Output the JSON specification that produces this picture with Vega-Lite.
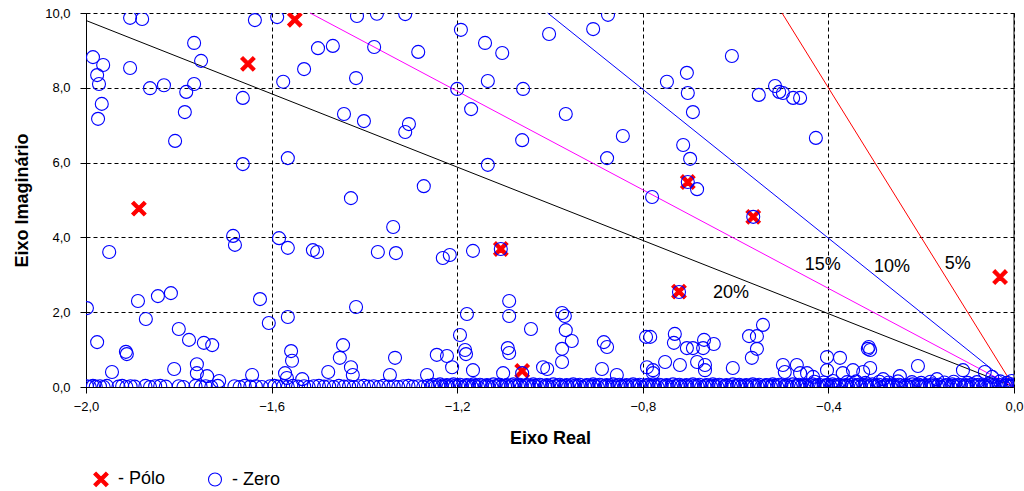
{
  "$schema": "https://vega.github.io/schema/vega-lite/v6.json",
  "width": 928,
  "height": 374,
  "autosize": {"type": "none"},
  "padding": {"left": 86, "top": 13, "right": 10, "bottom": 104},
  "background": "white",
  "config": {
    "font": "Liberation Sans",
    "view": {"stroke": null},
    "axis": {"labelFont": "Liberation Sans", "titleFont": "Liberation Sans", "labelColor": "#000", "titleColor": "#000", "domainColor": "#000", "tickColor": "#000"}
  },
  "datasets": {
    "lines": [
      {"zeta": "20%", "re": 0, "im": 0}, {"zeta": "20%", "re": -2.0, "im": 9.8},
      {"zeta": "15%", "re": 0, "im": 0}, {"zeta": "15%", "re": -1.517, "im": 10},
      {"zeta": "10%", "re": 0, "im": 0}, {"zeta": "10%", "re": -1.005, "im": 10},
      {"zeta": "5%", "re": 0, "im": 0}, {"zeta": "5%", "re": -0.5, "im": 10}
    ],
    "labels": [
      {"label": "20%", "re": -0.610, "im": 2.51},
      {"label": "15%", "re": -0.412, "im": 3.26},
      {"label": "10%", "re": -0.263, "im": 3.21},
      {"label": "5%", "re": -0.121, "im": 3.29}
    ],
    "frame": [{"re": 0}],
    "points": [
      {"tipo": "Pólo", "re": -1.886, "im": 4.77},
      {"tipo": "Pólo", "re": -1.651, "im": 8.64},
      {"tipo": "Pólo", "re": -1.550, "im": 9.82},
      {"tipo": "Pólo", "re": -1.106, "im": 3.69},
      {"tipo": "Pólo", "re": -1.060, "im": 0.43},
      {"tipo": "Pólo", "re": -0.722, "im": 2.55},
      {"tipo": "Pólo", "re": -0.703, "im": 5.48},
      {"tipo": "Pólo", "re": -0.562, "im": 4.55},
      {"tipo": "Pólo", "re": -0.030, "im": 2.94},
      {"tipo": "Zero", "re": -1.905, "im": 9.87}, {"tipo": "Zero", "re": -1.879, "im": 9.84}, {"tipo": "Zero", "re": -1.636, "im": 9.81}, {"tipo": "Zero", "re": -1.588, "im": 9.89},
      {"tipo": "Zero", "re": -1.985, "im": 8.82}, {"tipo": "Zero", "re": -1.963, "im": 8.61}, {"tipo": "Zero", "re": -1.976, "im": 8.34}, {"tipo": "Zero", "re": -1.972, "im": 8.10},
      {"tipo": "Zero", "re": -1.966, "im": 7.57}, {"tipo": "Zero", "re": -1.974, "im": 7.17}, {"tipo": "Zero", "re": -1.905, "im": 8.53}, {"tipo": "Zero", "re": -1.862, "im": 7.99},
      {"tipo": "Zero", "re": -1.832, "im": 8.07}, {"tipo": "Zero", "re": -1.767, "im": 9.20}, {"tipo": "Zero", "re": -1.752, "im": 8.72}, {"tipo": "Zero", "re": -1.767, "im": 8.10},
      {"tipo": "Zero", "re": -1.784, "im": 7.89}, {"tipo": "Zero", "re": -1.787, "im": 7.35}, {"tipo": "Zero", "re": -1.808, "im": 6.58}, {"tipo": "Zero", "re": -1.662, "im": 7.73},
      {"tipo": "Zero", "re": -1.662, "im": 5.96}, {"tipo": "Zero", "re": -1.575, "im": 8.16}, {"tipo": "Zero", "re": -1.530, "im": 8.50}, {"tipo": "Zero", "re": -1.500, "im": 9.06},
      {"tipo": "Zero", "re": -1.565, "im": 6.12},
      {"tipo": "Zero", "re": -1.416, "im": 9.92}, {"tipo": "Zero", "re": -1.373, "im": 9.98}, {"tipo": "Zero", "re": -1.312, "im": 9.97}, {"tipo": "Zero", "re": -1.192, "im": 9.55},
      {"tipo": "Zero", "re": -1.468, "im": 9.12}, {"tipo": "Zero", "re": -1.379, "im": 9.09}, {"tipo": "Zero", "re": -1.284, "im": 8.96}, {"tipo": "Zero", "re": -1.418, "im": 8.26},
      {"tipo": "Zero", "re": -1.140, "im": 9.20}, {"tipo": "Zero", "re": -1.103, "im": 8.93}, {"tipo": "Zero", "re": -1.200, "im": 7.97}, {"tipo": "Zero", "re": -1.134, "im": 8.18},
      {"tipo": "Zero", "re": -1.058, "im": 7.97}, {"tipo": "Zero", "re": -1.170, "im": 7.43}, {"tipo": "Zero", "re": -1.444, "im": 7.30}, {"tipo": "Zero", "re": -1.401, "im": 7.11},
      {"tipo": "Zero", "re": -1.304, "im": 7.03}, {"tipo": "Zero", "re": -1.312, "im": 6.82}, {"tipo": "Zero", "re": -1.060, "im": 6.60}, {"tipo": "Zero", "re": -1.134, "im": 5.94},
      {"tipo": "Zero", "re": -1.272, "im": 5.37}, {"tipo": "Zero", "re": -1.429, "im": 5.05}, {"tipo": "Zero", "re": -1.002, "im": 9.44},
      {"tipo": "Zero", "re": -0.875, "im": 9.95}, {"tipo": "Zero", "re": -0.907, "im": 9.57}, {"tipo": "Zero", "re": -0.608, "im": 8.85}, {"tipo": "Zero", "re": -0.705, "im": 8.40},
      {"tipo": "Zero", "re": -0.748, "im": 8.16}, {"tipo": "Zero", "re": -0.703, "im": 7.86}, {"tipo": "Zero", "re": -0.692, "im": 7.35}, {"tipo": "Zero", "re": -0.550, "im": 7.81},
      {"tipo": "Zero", "re": -0.515, "im": 8.05}, {"tipo": "Zero", "re": -0.506, "im": 7.89}, {"tipo": "Zero", "re": -0.966, "im": 7.30}, {"tipo": "Zero", "re": -0.843, "im": 6.71},
      {"tipo": "Zero", "re": -0.877, "im": 6.12}, {"tipo": "Zero", "re": -0.713, "im": 6.47}, {"tipo": "Zero", "re": -0.698, "im": 6.10}, {"tipo": "Zero", "re": -0.703, "im": 5.48},
      {"tipo": "Zero", "re": -0.683, "im": 5.29}, {"tipo": "Zero", "re": -0.780, "im": 5.08},
      {"tipo": "Zero", "re": -0.498, "im": 7.86}, {"tipo": "Zero", "re": -0.476, "im": 7.73}, {"tipo": "Zero", "re": -0.461, "im": 7.73}, {"tipo": "Zero", "re": -0.427, "im": 6.66},
      {"tipo": "Zero", "re": -1.950, "im": 3.61}, {"tipo": "Zero", "re": -1.683, "im": 4.04}, {"tipo": "Zero", "re": -1.679, "im": 3.80}, {"tipo": "Zero", "re": -1.584, "im": 3.98},
      {"tipo": "Zero", "re": -1.565, "im": 3.72}, {"tipo": "Zero", "re": -1.511, "im": 3.66}, {"tipo": "Zero", "re": -1.502, "im": 3.61}, {"tipo": "Zero", "re": -1.998, "im": 2.11},
      {"tipo": "Zero", "re": -1.888, "im": 2.30}, {"tipo": "Zero", "re": -1.845, "im": 2.43}, {"tipo": "Zero", "re": -1.817, "im": 2.51}, {"tipo": "Zero", "re": -1.625, "im": 2.35},
      {"tipo": "Zero", "re": -1.871, "im": 1.82}, {"tipo": "Zero", "re": -1.800, "im": 1.55}, {"tipo": "Zero", "re": -1.565, "im": 1.87}, {"tipo": "Zero", "re": -1.606, "im": 1.71},
      {"tipo": "Zero", "re": -1.976, "im": 1.20}, {"tipo": "Zero", "re": -1.778, "im": 1.26}, {"tipo": "Zero", "re": -1.746, "im": 1.18}, {"tipo": "Zero", "re": -1.728, "im": 1.12},
      {"tipo": "Zero", "re": -1.914, "im": 0.94}, {"tipo": "Zero", "re": -1.558, "im": 0.96},
      {"tipo": "Zero", "re": -1.338, "im": 4.28}, {"tipo": "Zero", "re": -1.371, "im": 3.61}, {"tipo": "Zero", "re": -1.332, "im": 3.58}, {"tipo": "Zero", "re": -1.231, "im": 3.45},
      {"tipo": "Zero", "re": -1.216, "im": 3.53}, {"tipo": "Zero", "re": -1.166, "im": 3.64}, {"tipo": "Zero", "re": -1.106, "im": 3.69}, {"tipo": "Zero", "re": -1.088, "im": 2.30},
      {"tipo": "Zero", "re": -1.418, "im": 2.14}, {"tipo": "Zero", "re": -1.179, "im": 1.95}, {"tipo": "Zero", "re": -1.088, "im": 1.90}, {"tipo": "Zero", "re": -1.041, "im": 1.55},
      {"tipo": "Zero", "re": -1.194, "im": 1.39}, {"tipo": "Zero", "re": -1.446, "im": 1.12}, {"tipo": "Zero", "re": -1.091, "im": 1.04}, {"tipo": "Zero", "re": -1.183, "im": 0.99},
      {"tipo": "Zero", "re": -0.722, "im": 2.54}, {"tipo": "Zero", "re": -0.562, "im": 4.55}, {"tipo": "Zero", "re": -0.974, "im": 1.98}, {"tipo": "Zero", "re": -0.968, "im": 1.90},
      {"tipo": "Zero", "re": -0.966, "im": 1.52}, {"tipo": "Zero", "re": -0.953, "im": 1.23}, {"tipo": "Zero", "re": -0.974, "im": 1.02}, {"tipo": "Zero", "re": -0.884, "im": 1.20},
      {"tipo": "Zero", "re": -0.877, "im": 1.07}, {"tipo": "Zero", "re": -0.793, "im": 1.34}, {"tipo": "Zero", "re": -0.784, "im": 1.34}, {"tipo": "Zero", "re": -0.731, "im": 1.42},
      {"tipo": "Zero", "re": -0.733, "im": 1.18}, {"tipo": "Zero", "re": -0.705, "im": 1.04}, {"tipo": "Zero", "re": -0.692, "im": 1.04}, {"tipo": "Zero", "re": -0.668, "im": 1.26},
      {"tipo": "Zero", "re": -0.647, "im": 1.15}, {"tipo": "Zero", "re": -0.571, "im": 1.36}, {"tipo": "Zero", "re": -0.554, "im": 1.36}, {"tipo": "Zero", "re": -0.541, "im": 1.66},
      {"tipo": "Zero", "re": -0.554, "im": 1.02}, {"tipo": "Zero", "re": -0.313, "im": 1.07},
      {"tipo": "Zero", "re": -1.912, "im": 0.88}, {"tipo": "Zero", "re": -1.944, "im": 0.40}, {"tipo": "Zero", "re": -1.810, "im": 0.48}, {"tipo": "Zero", "re": -1.761, "im": 0.61},
      {"tipo": "Zero", "re": -1.761, "im": 0.37}, {"tipo": "Zero", "re": -1.739, "im": 0.29}, {"tipo": "Zero", "re": -1.713, "im": 0.16}, {"tipo": "Zero", "re": -1.642, "im": 0.32},
      {"tipo": "Zero", "re": -1.556, "im": 0.70}, {"tipo": "Zero", "re": -1.571, "im": 0.37}, {"tipo": "Zero", "re": -1.567, "im": 0.24}, {"tipo": "Zero", "re": -1.534, "im": 0.21},
      {"tipo": "Zero", "re": -1.478, "im": 0.40}, {"tipo": "Zero", "re": -1.453, "im": 0.78}, {"tipo": "Zero", "re": -1.429, "im": 0.53}, {"tipo": "Zero", "re": -1.425, "im": 0.32},
      {"tipo": "Zero", "re": -1.334, "im": 0.78}, {"tipo": "Zero", "re": -1.345, "im": 0.32},
      {"tipo": "Zero", "re": -1.244, "im": 0.86}, {"tipo": "Zero", "re": -1.222, "im": 0.83}, {"tipo": "Zero", "re": -1.211, "im": 0.53}, {"tipo": "Zero", "re": -1.265, "im": 0.32},
      {"tipo": "Zero", "re": -1.181, "im": 0.88}, {"tipo": "Zero", "re": -1.166, "im": 0.45}, {"tipo": "Zero", "re": -1.088, "im": 0.91}, {"tipo": "Zero", "re": -1.101, "im": 0.37},
      {"tipo": "Zero", "re": -1.060, "im": 0.37}, {"tipo": "Zero", "re": -1.015, "im": 0.53}, {"tipo": "Zero", "re": -1.006, "im": 0.48}, {"tipo": "Zero", "re": -0.974, "im": 0.67},
      {"tipo": "Zero", "re": -0.888, "im": 0.48}, {"tipo": "Zero", "re": -0.856, "im": 0.32}, {"tipo": "Zero", "re": -0.791, "im": 0.53}, {"tipo": "Zero", "re": -0.778, "im": 0.45},
      {"tipo": "Zero", "re": -0.778, "im": 0.37}, {"tipo": "Zero", "re": -0.752, "im": 0.67}, {"tipo": "Zero", "re": -0.720, "im": 0.59}, {"tipo": "Zero", "re": -0.683, "im": 0.67},
      {"tipo": "Zero", "re": -0.670, "im": 1.04}, {"tipo": "Zero", "re": -0.666, "im": 0.59}, {"tipo": "Zero", "re": -0.666, "im": 0.45},
      {"tipo": "Zero", "re": -0.606, "im": 0.51}, {"tipo": "Zero", "re": -0.565, "im": 0.78}, {"tipo": "Zero", "re": -0.498, "im": 0.59}, {"tipo": "Zero", "re": -0.494, "im": 0.40},
      {"tipo": "Zero", "re": -0.468, "im": 0.59}, {"tipo": "Zero", "re": -0.461, "im": 0.37}, {"tipo": "Zero", "re": -0.446, "im": 0.37}, {"tipo": "Zero", "re": -0.433, "im": 0.27},
      {"tipo": "Zero", "re": -0.403, "im": 0.80}, {"tipo": "Zero", "re": -0.403, "im": 0.45}, {"tipo": "Zero", "re": -0.375, "im": 0.78}, {"tipo": "Zero", "re": -0.369, "im": 0.37},
      {"tipo": "Zero", "re": -0.347, "im": 0.45}, {"tipo": "Zero", "re": -0.325, "im": 0.40}, {"tipo": "Zero", "re": -0.310, "im": 0.51}, {"tipo": "Zero", "re": -0.315, "im": 1.02},
      {"tipo": "Zero", "re": -0.310, "im": 0.99}, {"tipo": "Zero", "re": -0.282, "im": 0.21}, {"tipo": "Zero", "re": -0.246, "im": 0.29}, {"tipo": "Zero", "re": -0.207, "im": 0.56},
      {"tipo": "Zero", "re": -0.166, "im": 0.21}, {"tipo": "Zero", "re": -0.110, "im": 0.45}, {"tipo": "Zero", "re": -0.063, "im": 0.40}, {"tipo": "Zero", "re": -0.047, "im": 0.27},
      {"tipo": "Zero", "re": -1.998, "im": 0.02}, {"tipo": "Zero", "re": -1.992, "im": 0.00}, {"tipo": "Zero", "re": -1.985, "im": 0.03}, {"tipo": "Zero", "re": -1.979, "im": 0.01},
      {"tipo": "Zero", "re": -1.970, "im": 0.02}, {"tipo": "Zero", "re": -1.962, "im": 0.00}, {"tipo": "Zero", "re": -1.955, "im": 0.03}, {"tipo": "Zero", "re": -1.930, "im": 0.01},
      {"tipo": "Zero", "re": -1.922, "im": 0.03}, {"tipo": "Zero", "re": -1.913, "im": 0.00}, {"tipo": "Zero", "re": -1.904, "im": 0.02}, {"tipo": "Zero", "re": -1.895, "im": 0.01},
      {"tipo": "Zero", "re": -1.872, "im": 0.03}, {"tipo": "Zero", "re": -1.862, "im": 0.00}, {"tipo": "Zero", "re": -1.851, "im": 0.02}, {"tipo": "Zero", "re": -1.840, "im": 0.03},
      {"tipo": "Zero", "re": -1.828, "im": 0.01}, {"tipo": "Zero", "re": -1.800, "im": 0.02}, {"tipo": "Zero", "re": -1.790, "im": 0.00}, {"tipo": "Zero", "re": -1.764, "im": 0.03},
      {"tipo": "Zero", "re": -1.753, "im": 0.01}, {"tipo": "Zero", "re": -1.742, "im": 0.02}, {"tipo": "Zero", "re": -1.730, "im": 0.00}, {"tipo": "Zero", "re": -1.716, "im": 0.03},
      {"tipo": "Zero", "re": -1.680, "im": 0.02}, {"tipo": "Zero", "re": -1.669, "im": 0.00}, {"tipo": "Zero", "re": -1.658, "im": 0.03}, {"tipo": "Zero", "re": -1.646, "im": 0.01},
      {"tipo": "Zero", "re": -1.634, "im": 0.02}, {"tipo": "Zero", "re": -1.621, "im": 0.00}, {"tipo": "Zero", "re": -1.603, "im": 0.02}, {"tipo": "Zero", "re": -1.594, "im": 0.03},
      {"tipo": "Zero", "re": -1.585, "im": 0.01}, {"tipo": "Zero", "re": -1.575, "im": 0.02}, {"tipo": "Zero", "re": -1.565, "im": 0.00}, {"tipo": "Zero", "re": -1.554, "im": 0.03},
      {"tipo": "Zero", "re": -1.543, "im": 0.01}, {"tipo": "Zero", "re": -1.530, "im": 0.02}, {"tipo": "Zero", "re": -1.520, "im": 0.00}, {"tipo": "Zero", "re": -1.509, "im": 0.02},
      {"tipo": "Zero", "re": -1.498, "im": 0.03}, {"tipo": "Zero", "re": -1.487, "im": 0.01}, {"tipo": "Zero", "re": -1.476, "im": 0.02}, {"tipo": "Zero", "re": -1.466, "im": 0.00},
      {"tipo": "Zero", "re": -1.455, "im": 0.03}, {"tipo": "Zero", "re": -1.444, "im": 0.01}, {"tipo": "Zero", "re": -1.433, "im": 0.02}, {"tipo": "Zero", "re": -1.423, "im": 0.00},
      {"tipo": "Zero", "re": -1.412, "im": 0.02}, {"tipo": "Zero", "re": -1.401, "im": 0.03}, {"tipo": "Zero", "re": -1.391, "im": 0.01}, {"tipo": "Zero", "re": -1.380, "im": 0.02},
      {"tipo": "Zero", "re": -1.369, "im": 0.00}, {"tipo": "Zero", "re": -1.359, "im": 0.03}, {"tipo": "Zero", "re": -1.348, "im": 0.01}, {"tipo": "Zero", "re": -1.337, "im": 0.02},
      {"tipo": "Zero", "re": -1.327, "im": 0.00}, {"tipo": "Zero", "re": -1.316, "im": 0.02}, {"tipo": "Zero", "re": -1.305, "im": 0.03}, {"tipo": "Zero", "re": -1.295, "im": 0.01},
      {"tipo": "Zero", "re": -1.284, "im": 0.02}, {"tipo": "Zero", "re": -1.273, "im": 0.00}, {"tipo": "Zero", "re": -1.263, "im": 0.03},
      {"tipo": "Zero", "re": -1.255, "im": 0.02}, {"tipo": "Zero", "re": -1.248, "im": 0.00}, {"tipo": "Zero", "re": -1.241, "im": 0.04}, {"tipo": "Zero", "re": -1.233, "im": 0.01},
      {"tipo": "Zero", "re": -1.226, "im": 0.03}, {"tipo": "Zero", "re": -1.219, "im": 0.00}, {"tipo": "Zero", "re": -1.212, "im": 0.04}, {"tipo": "Zero", "re": -1.205, "im": 0.02},
      {"tipo": "Zero", "re": -1.198, "im": 0.03}, {"tipo": "Zero", "re": -1.190, "im": 0.00}, {"tipo": "Zero", "re": -1.183, "im": 0.02}, {"tipo": "Zero", "re": -1.176, "im": 0.04},
      {"tipo": "Zero", "re": -1.169, "im": 0.01}, {"tipo": "Zero", "re": -1.162, "im": 0.03}, {"tipo": "Zero", "re": -1.155, "im": 0.00}, {"tipo": "Zero", "re": -1.147, "im": 0.04},
      {"tipo": "Zero", "re": -1.140, "im": 0.02}, {"tipo": "Zero", "re": -1.133, "im": 0.03}, {"tipo": "Zero", "re": -1.126, "im": 0.00}, {"tipo": "Zero", "re": -1.119, "im": 0.02},
      {"tipo": "Zero", "re": -1.112, "im": 0.04}, {"tipo": "Zero", "re": -1.104, "im": 0.01}, {"tipo": "Zero", "re": -1.097, "im": 0.03}, {"tipo": "Zero", "re": -1.090, "im": 0.00},
      {"tipo": "Zero", "re": -1.083, "im": 0.04}, {"tipo": "Zero", "re": -1.076, "im": 0.02}, {"tipo": "Zero", "re": -1.069, "im": 0.03}, {"tipo": "Zero", "re": -1.061, "im": 0.00},
      {"tipo": "Zero", "re": -1.054, "im": 0.02}, {"tipo": "Zero", "re": -1.047, "im": 0.04}, {"tipo": "Zero", "re": -1.040, "im": 0.01}, {"tipo": "Zero", "re": -1.033, "im": 0.03},
      {"tipo": "Zero", "re": -1.026, "im": 0.00}, {"tipo": "Zero", "re": -1.018, "im": 0.04}, {"tipo": "Zero", "re": -1.011, "im": 0.02}, {"tipo": "Zero", "re": -1.004, "im": 0.03},
      {"tipo": "Zero", "re": -0.997, "im": 0.00}, {"tipo": "Zero", "re": -0.990, "im": 0.02}, {"tipo": "Zero", "re": -0.983, "im": 0.04}, {"tipo": "Zero", "re": -0.975, "im": 0.01},
      {"tipo": "Zero", "re": -0.968, "im": 0.03}, {"tipo": "Zero", "re": -0.961, "im": 0.00}, {"tipo": "Zero", "re": -0.954, "im": 0.04}, {"tipo": "Zero", "re": -0.947, "im": 0.02},
      {"tipo": "Zero", "re": -0.940, "im": 0.03}, {"tipo": "Zero", "re": -0.932, "im": 0.00}, {"tipo": "Zero", "re": -0.925, "im": 0.02}, {"tipo": "Zero", "re": -0.918, "im": 0.04},
      {"tipo": "Zero", "re": -0.911, "im": 0.01}, {"tipo": "Zero", "re": -0.904, "im": 0.03}, {"tipo": "Zero", "re": -0.897, "im": 0.00}, {"tipo": "Zero", "re": -0.889, "im": 0.04},
      {"tipo": "Zero", "re": -0.882, "im": 0.02}, {"tipo": "Zero", "re": -0.875, "im": 0.03}, {"tipo": "Zero", "re": -0.868, "im": 0.00}, {"tipo": "Zero", "re": -0.861, "im": 0.02},
      {"tipo": "Zero", "re": -0.854, "im": 0.04}, {"tipo": "Zero", "re": -0.846, "im": 0.01}, {"tipo": "Zero", "re": -0.839, "im": 0.03}, {"tipo": "Zero", "re": -0.832, "im": 0.00},
      {"tipo": "Zero", "re": -0.825, "im": 0.04}, {"tipo": "Zero", "re": -0.818, "im": 0.02}, {"tipo": "Zero", "re": -0.811, "im": 0.03}, {"tipo": "Zero", "re": -0.803, "im": 0.00},
      {"tipo": "Zero", "re": -0.796, "im": 0.02}, {"tipo": "Zero", "re": -0.789, "im": 0.04}, {"tipo": "Zero", "re": -0.782, "im": 0.01}, {"tipo": "Zero", "re": -0.775, "im": 0.03},
      {"tipo": "Zero", "re": -0.768, "im": 0.00}, {"tipo": "Zero", "re": -0.760, "im": 0.04}, {"tipo": "Zero", "re": -0.753, "im": 0.02}, {"tipo": "Zero", "re": -0.746, "im": 0.03},
      {"tipo": "Zero", "re": -0.739, "im": 0.00}, {"tipo": "Zero", "re": -0.732, "im": 0.02}, {"tipo": "Zero", "re": -0.725, "im": 0.04}, {"tipo": "Zero", "re": -0.717, "im": 0.01},
      {"tipo": "Zero", "re": -0.710, "im": 0.03}, {"tipo": "Zero", "re": -0.703, "im": 0.00}, {"tipo": "Zero", "re": -0.696, "im": 0.04}, {"tipo": "Zero", "re": -0.689, "im": 0.02},
      {"tipo": "Zero", "re": -0.682, "im": 0.03}, {"tipo": "Zero", "re": -0.674, "im": 0.00}, {"tipo": "Zero", "re": -0.667, "im": 0.02}, {"tipo": "Zero", "re": -0.660, "im": 0.04},
      {"tipo": "Zero", "re": -0.653, "im": 0.01}, {"tipo": "Zero", "re": -0.646, "im": 0.03}, {"tipo": "Zero", "re": -0.639, "im": 0.00}, {"tipo": "Zero", "re": -0.631, "im": 0.04},
      {"tipo": "Zero", "re": -0.624, "im": 0.02}, {"tipo": "Zero", "re": -0.617, "im": 0.03}, {"tipo": "Zero", "re": -0.610, "im": 0.00}, {"tipo": "Zero", "re": -0.603, "im": 0.02},
      {"tipo": "Zero", "re": -0.596, "im": 0.04}, {"tipo": "Zero", "re": -0.588, "im": 0.01}, {"tipo": "Zero", "re": -0.581, "im": 0.03}, {"tipo": "Zero", "re": -0.574, "im": 0.00},
      {"tipo": "Zero", "re": -0.567, "im": 0.04}, {"tipo": "Zero", "re": -0.560, "im": 0.02}, {"tipo": "Zero", "re": -0.553, "im": 0.03}, {"tipo": "Zero", "re": -0.545, "im": 0.00},
      {"tipo": "Zero", "re": -0.538, "im": 0.02}, {"tipo": "Zero", "re": -0.531, "im": 0.04}, {"tipo": "Zero", "re": -0.524, "im": 0.01}, {"tipo": "Zero", "re": -0.517, "im": 0.03},
      {"tipo": "Zero", "re": -0.510, "im": 0.00}, {"tipo": "Zero", "re": -0.502, "im": 0.04}, {"tipo": "Zero", "re": -0.495, "im": 0.02}, {"tipo": "Zero", "re": -0.488, "im": 0.03},
      {"tipo": "Zero", "re": -0.481, "im": 0.00}, {"tipo": "Zero", "re": -0.474, "im": 0.02}, {"tipo": "Zero", "re": -0.467, "im": 0.04}, {"tipo": "Zero", "re": -0.459, "im": 0.01},
      {"tipo": "Zero", "re": -0.452, "im": 0.03}, {"tipo": "Zero", "re": -0.445, "im": 0.00}, {"tipo": "Zero", "re": -0.438, "im": 0.04}, {"tipo": "Zero", "re": -0.431, "im": 0.02},
      {"tipo": "Zero", "re": -0.424, "im": 0.03}, {"tipo": "Zero", "re": -0.416, "im": 0.00}, {"tipo": "Zero", "re": -0.409, "im": 0.02}, {"tipo": "Zero", "re": -0.402, "im": 0.04},
      {"tipo": "Zero", "re": -0.395, "im": 0.01}, {"tipo": "Zero", "re": -0.388, "im": 0.03}, {"tipo": "Zero", "re": -0.381, "im": 0.00}, {"tipo": "Zero", "re": -0.373, "im": 0.04},
      {"tipo": "Zero", "re": -0.366, "im": 0.02}, {"tipo": "Zero", "re": -0.359, "im": 0.03}, {"tipo": "Zero", "re": -0.352, "im": 0.00}, {"tipo": "Zero", "re": -0.345, "im": 0.02},
      {"tipo": "Zero", "re": -0.338, "im": 0.04}, {"tipo": "Zero", "re": -0.330, "im": 0.01}, {"tipo": "Zero", "re": -0.323, "im": 0.03}, {"tipo": "Zero", "re": -0.316, "im": 0.00},
      {"tipo": "Zero", "re": -0.309, "im": 0.04}, {"tipo": "Zero", "re": -0.302, "im": 0.02}, {"tipo": "Zero", "re": -0.295, "im": 0.03}, {"tipo": "Zero", "re": -0.287, "im": 0.00},
      {"tipo": "Zero", "re": -0.280, "im": 0.02}, {"tipo": "Zero", "re": -0.273, "im": 0.04}, {"tipo": "Zero", "re": -0.266, "im": 0.01}, {"tipo": "Zero", "re": -0.259, "im": 0.03},
      {"tipo": "Zero", "re": -0.252, "im": 0.00}, {"tipo": "Zero", "re": -0.244, "im": 0.04}, {"tipo": "Zero", "re": -0.237, "im": 0.02}, {"tipo": "Zero", "re": -0.230, "im": 0.03},
      {"tipo": "Zero", "re": -0.223, "im": 0.00}, {"tipo": "Zero", "re": -0.216, "im": 0.02}, {"tipo": "Zero", "re": -0.209, "im": 0.04}, {"tipo": "Zero", "re": -0.201, "im": 0.01},
      {"tipo": "Zero", "re": -0.194, "im": 0.03}, {"tipo": "Zero", "re": -0.187, "im": 0.00}, {"tipo": "Zero", "re": -0.180, "im": 0.04}, {"tipo": "Zero", "re": -0.173, "im": 0.02},
      {"tipo": "Zero", "re": -0.166, "im": 0.03}, {"tipo": "Zero", "re": -0.158, "im": 0.00}, {"tipo": "Zero", "re": -0.151, "im": 0.02}, {"tipo": "Zero", "re": -0.144, "im": 0.04},
      {"tipo": "Zero", "re": -0.137, "im": 0.01}, {"tipo": "Zero", "re": -0.130, "im": 0.03}, {"tipo": "Zero", "re": -0.123, "im": 0.00}, {"tipo": "Zero", "re": -0.115, "im": 0.04},
      {"tipo": "Zero", "re": -0.108, "im": 0.02}, {"tipo": "Zero", "re": -0.101, "im": 0.03}, {"tipo": "Zero", "re": -0.094, "im": 0.00}, {"tipo": "Zero", "re": -0.087, "im": 0.02},
      {"tipo": "Zero", "re": -0.080, "im": 0.04}, {"tipo": "Zero", "re": -0.072, "im": 0.01}, {"tipo": "Zero", "re": -0.065, "im": 0.03}, {"tipo": "Zero", "re": -0.058, "im": 0.00},
      {"tipo": "Zero", "re": -0.051, "im": 0.04}, {"tipo": "Zero", "re": -0.044, "im": 0.02}, {"tipo": "Zero", "re": -0.037, "im": 0.03}, {"tipo": "Zero", "re": -0.029, "im": 0.00},
      {"tipo": "Zero", "re": -0.022, "im": 0.02}, {"tipo": "Zero", "re": -0.015, "im": 0.04}, {"tipo": "Zero", "re": -0.008, "im": 0.01}, {"tipo": "Zero", "re": -0.003, "im": 0.03},
      {"tipo": "Zero", "re": -1.252, "im": 0.06}, {"tipo": "Zero", "re": -1.237, "im": 0.07}, {"tipo": "Zero", "re": -1.222, "im": 0.05}, {"tipo": "Zero", "re": -1.208, "im": 0.07},
      {"tipo": "Zero", "re": -1.194, "im": 0.06}, {"tipo": "Zero", "re": -1.180, "im": 0.05}, {"tipo": "Zero", "re": -1.165, "im": 0.07}, {"tipo": "Zero", "re": -1.151, "im": 0.06},
      {"tipo": "Zero", "re": -1.136, "im": 0.05}, {"tipo": "Zero", "re": -1.122, "im": 0.07}, {"tipo": "Zero", "re": -1.108, "im": 0.06}, {"tipo": "Zero", "re": -1.093, "im": 0.05},
      {"tipo": "Zero", "re": -1.079, "im": 0.07}, {"tipo": "Zero", "re": -1.065, "im": 0.06}, {"tipo": "Zero", "re": -1.050, "im": 0.05}, {"tipo": "Zero", "re": -1.036, "im": 0.07},
      {"tipo": "Zero", "re": -1.022, "im": 0.06}, {"tipo": "Zero", "re": -1.007, "im": 0.05}, {"tipo": "Zero", "re": -0.993, "im": 0.07}, {"tipo": "Zero", "re": -0.979, "im": 0.06},
      {"tipo": "Zero", "re": -0.964, "im": 0.05}, {"tipo": "Zero", "re": -0.950, "im": 0.07}, {"tipo": "Zero", "re": -0.936, "im": 0.06}, {"tipo": "Zero", "re": -0.921, "im": 0.05},
      {"tipo": "Zero", "re": -0.907, "im": 0.07}, {"tipo": "Zero", "re": -0.893, "im": 0.06}, {"tipo": "Zero", "re": -0.878, "im": 0.05}, {"tipo": "Zero", "re": -0.864, "im": 0.07},
      {"tipo": "Zero", "re": -0.850, "im": 0.06}, {"tipo": "Zero", "re": -0.835, "im": 0.05}, {"tipo": "Zero", "re": -0.821, "im": 0.07}, {"tipo": "Zero", "re": -0.807, "im": 0.06},
      {"tipo": "Zero", "re": -0.792, "im": 0.05}, {"tipo": "Zero", "re": -0.778, "im": 0.07}, {"tipo": "Zero", "re": -0.764, "im": 0.06}, {"tipo": "Zero", "re": -0.749, "im": 0.05},
      {"tipo": "Zero", "re": -0.735, "im": 0.07}, {"tipo": "Zero", "re": -0.721, "im": 0.06}, {"tipo": "Zero", "re": -0.706, "im": 0.05}, {"tipo": "Zero", "re": -0.692, "im": 0.07},
      {"tipo": "Zero", "re": -0.678, "im": 0.06}, {"tipo": "Zero", "re": -0.663, "im": 0.05}, {"tipo": "Zero", "re": -0.649, "im": 0.07}, {"tipo": "Zero", "re": -0.635, "im": 0.06},
      {"tipo": "Zero", "re": -0.620, "im": 0.05}, {"tipo": "Zero", "re": -0.606, "im": 0.07}, {"tipo": "Zero", "re": -0.592, "im": 0.06}, {"tipo": "Zero", "re": -0.577, "im": 0.05},
      {"tipo": "Zero", "re": -0.563, "im": 0.07}, {"tipo": "Zero", "re": -0.549, "im": 0.06}, {"tipo": "Zero", "re": -0.534, "im": 0.05}, {"tipo": "Zero", "re": -0.520, "im": 0.07},
      {"tipo": "Zero", "re": -0.506, "im": 0.06}, {"tipo": "Zero", "re": -0.491, "im": 0.05}, {"tipo": "Zero", "re": -0.477, "im": 0.07}, {"tipo": "Zero", "re": -0.463, "im": 0.06},
      {"tipo": "Zero", "re": -0.448, "im": 0.05}, {"tipo": "Zero", "re": -0.434, "im": 0.07}, {"tipo": "Zero", "re": -0.420, "im": 0.06}, {"tipo": "Zero", "re": -0.405, "im": 0.05},
      {"tipo": "Zero", "re": -0.391, "im": 0.07}, {"tipo": "Zero", "re": -0.377, "im": 0.06}, {"tipo": "Zero", "re": -0.362, "im": 0.05}, {"tipo": "Zero", "re": -0.348, "im": 0.07},
      {"tipo": "Zero", "re": -0.334, "im": 0.06}, {"tipo": "Zero", "re": -0.319, "im": 0.05}, {"tipo": "Zero", "re": -0.305, "im": 0.07}, {"tipo": "Zero", "re": -0.291, "im": 0.06},
      {"tipo": "Zero", "re": -0.276, "im": 0.05}, {"tipo": "Zero", "re": -0.262, "im": 0.07}, {"tipo": "Zero", "re": -0.248, "im": 0.06}, {"tipo": "Zero", "re": -0.233, "im": 0.05},
      {"tipo": "Zero", "re": -0.219, "im": 0.07}, {"tipo": "Zero", "re": -0.205, "im": 0.06}, {"tipo": "Zero", "re": -0.190, "im": 0.05}, {"tipo": "Zero", "re": -0.176, "im": 0.07},
      {"tipo": "Zero", "re": -0.162, "im": 0.06}, {"tipo": "Zero", "re": -0.147, "im": 0.05}, {"tipo": "Zero", "re": -0.133, "im": 0.07}, {"tipo": "Zero", "re": -0.119, "im": 0.06},
      {"tipo": "Zero", "re": -0.104, "im": 0.05}, {"tipo": "Zero", "re": -0.090, "im": 0.07}, {"tipo": "Zero", "re": -0.076, "im": 0.06}, {"tipo": "Zero", "re": -0.061, "im": 0.05},
      {"tipo": "Zero", "re": -0.047, "im": 0.07}, {"tipo": "Zero", "re": -0.033, "im": 0.06}, {"tipo": "Zero", "re": -0.018, "im": 0.05}, {"tipo": "Zero", "re": -0.006, "im": 0.07},
      {"tipo": "Zero", "re": -0.430, "im": 0.14}, {"tipo": "Zero", "re": -0.410, "im": 0.12}, {"tipo": "Zero", "re": -0.390, "im": 0.16}, {"tipo": "Zero", "re": -0.360, "im": 0.13},
      {"tipo": "Zero", "re": -0.340, "im": 0.15}, {"tipo": "Zero", "re": -0.320, "im": 0.11}, {"tipo": "Zero", "re": -0.290, "im": 0.14}, {"tipo": "Zero", "re": -0.270, "im": 0.12},
      {"tipo": "Zero", "re": -0.250, "im": 0.15}, {"tipo": "Zero", "re": -0.220, "im": 0.13}, {"tipo": "Zero", "re": -0.200, "im": 0.11}, {"tipo": "Zero", "re": -0.180, "im": 0.14},
      {"tipo": "Zero", "re": -0.150, "im": 0.12}, {"tipo": "Zero", "re": -0.130, "im": 0.14}, {"tipo": "Zero", "re": -0.100, "im": 0.11}, {"tipo": "Zero", "re": -0.080, "im": 0.13},
      {"tipo": "Zero", "re": -0.050, "im": 0.12}, {"tipo": "Zero", "re": -0.030, "im": 0.15}, {"tipo": "Zero", "re": -0.015, "im": 0.11}, {"tipo": "Zero", "re": -0.005, "im": 0.16}
    ]
  },
  "layer": [
    {
      "data": {"name": "lines"},
      "mark": {"type": "line", "strokeWidth": 1},
      "encoding": {
        "x": {
          "field": "re", "type": "quantitative",
          "scale": {"domain": [-2, 0], "nice": false, "zero": false},
          "axis": {
            "values": [-2, -1.6, -1.2, -0.8, -0.4, 0],
            "labelExpr": "replace(format(datum.value, '.1f'), '.', ',')",
            "labelFlush": false, "labelFontSize": 13, "labelPadding": 7,
            "grid": true, "gridColor": "#000", "gridDash": [4, 3], "gridWidth": 1, "gridOpacity": 1,
            "domain": true, "domainWidth": 1, "ticks": true, "tickSize": 6, "tickWidth": 1,
            "title": "Eixo Real", "titleFontSize": 18, "titleFontWeight": "bold",
            "titleX": 464, "titleY": 51, "titleBaseline": "middle", "titleAlign": "center"
          }
        },
        "y": {
          "field": "im", "type": "quantitative",
          "scale": {"domain": [0, 10], "nice": false},
          "axis": {
            "values": [0, 2, 4, 6, 8, 10],
            "labelExpr": "replace(format(datum.value, '.1f'), '.', ',')",
            "labelFontSize": 13, "labelPadding": 10,
            "grid": true, "gridColor": "#000", "gridDash": [4, 3], "gridWidth": 1, "gridOpacity": 1,
            "domain": true, "domainWidth": 1, "ticks": true, "tickSize": 6, "tickWidth": 1,
            "title": "Eixo Imaginário", "titleFontSize": 18, "titleFontWeight": "bold",
            "titleX": -64, "titleY": 187, "titleBaseline": "middle", "titleAlign": "center", "titleAngle": 270
          }
        },
        "color": {
          "field": "zeta", "type": "nominal",
          "scale": {"domain": ["5%", "10%", "15%", "20%"], "range": ["#ff0000", "#0000ff", "#ff00ff", "#000000"]},
          "legend": null
        }
      }
    },
    {
      "data": {"name": "frame"},
      "mark": {"type": "rule", "color": "#000", "strokeWidth": 1},
      "encoding": {"x": {"field": "re", "type": "quantitative"}}
    },
    {
      "data": {"name": "points"},
      "mark": {"type": "point", "filled": false, "opacity": 1, "strokeWidth": 1.1, "size": 169, "clip": true},
      "encoding": {
        "x": {"field": "re", "type": "quantitative"},
        "y": {"field": "im", "type": "quantitative"},
        "shape": {
          "field": "tipo", "type": "nominal",
          "scale": {"domain": ["Pólo", "Zero"], "range": ["M-1.1,-0.75L-0.75,-1.1L0,-0.35L0.75,-1.1L1.1,-0.75L0.35,0L1.1,0.75L0.75,1.1L0,0.35L-0.75,1.1L-1.1,0.75L-0.35,0Z", "circle"]},
          "legend": {"title": null, "orient": "none", "legendX": 6, "legendY": 457, "direction": "horizontal", "labelFont": "Liberation Sans", "labelFontSize": 18, "labelColor": "#000", "symbolSize": 169, "symbolStrokeWidth": 1.1, "labelOffset": 8, "columnPadding": 40, "padding": 0, "labelExpr": "'- ' + datum.label"}
        },
        "fill": {
          "field": "tipo", "type": "nominal",
          "scale": {"domain": ["Pólo", "Zero"], "range": ["#ff0000", "transparent"]},
          "legend": {"title": null, "orient": "none", "legendX": 6, "legendY": 457, "direction": "horizontal", "labelFont": "Liberation Sans", "labelFontSize": 18, "labelColor": "#000", "symbolSize": 169, "symbolStrokeWidth": 1.1, "labelOffset": 8, "columnPadding": 40, "padding": 0, "labelExpr": "'- ' + datum.label"}
        },
        "stroke": {
          "field": "tipo", "type": "nominal",
          "scale": {"domain": ["Pólo", "Zero"], "range": ["#ff0000", "#0000ff"]},
          "legend": {"title": null, "orient": "none", "legendX": 6, "legendY": 457, "direction": "horizontal", "labelFont": "Liberation Sans", "labelFontSize": 18, "labelColor": "#000", "symbolSize": 169, "symbolStrokeWidth": 1.1, "labelOffset": 8, "columnPadding": 40, "padding": 0, "labelExpr": "'- ' + datum.label"}
        }
      }
    },
    {
      "data": {"name": "labels"},
      "mark": {"type": "text", "font": "Liberation Sans", "fontSize": 18, "color": "#000", "align": "center", "baseline": "middle"},
      "encoding": {
        "x": {"field": "re", "type": "quantitative"},
        "y": {"field": "im", "type": "quantitative"},
        "text": {"field": "label"}
      }
    }
  ]
}
